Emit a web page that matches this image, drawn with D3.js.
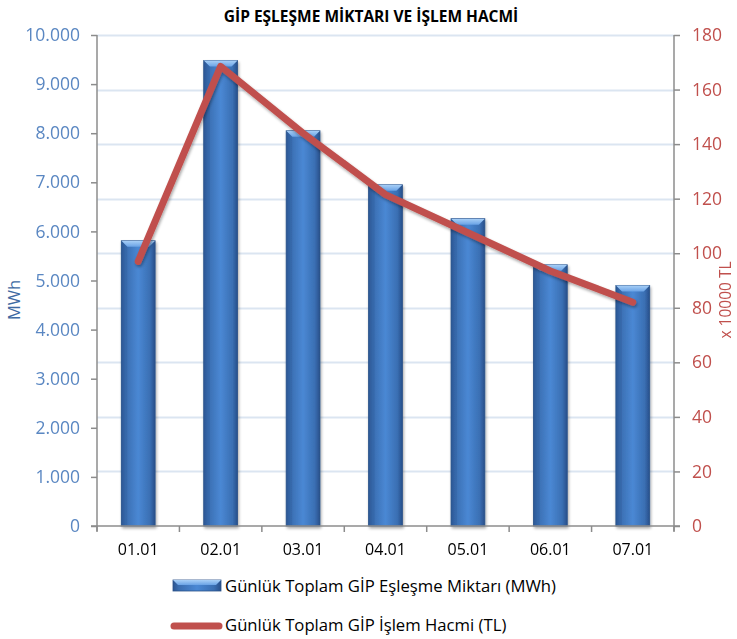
<!DOCTYPE html>
<html><head><meta charset="utf-8">
<script src="https://cdn.jsdelivr.net/npm/d3@7"></script>
<style>
html,body{margin:0;padding:0;background:#fff;}
svg{display:block;font-family:"Open Sans",sans-serif;}
</style></head>
<body><svg id="c" width="737" height="639"></svg>
<script>
const categories = ["01.01","02.01","03.01","04.01","05.01","06.01","07.01"];
const matchedMWh = [5810, 9480, 8050, 6950, 6260, 5320, 4900];
const volumeTL10k = [97, 168.5, 144, 121.5, 107.5, 93.5, 82];
const leftTicks = [0,1000,2000,3000,4000,5000,6000,7000,8000,9000,10000];
const rightTicks = [0,20,40,60,80,100,120,140,160,180];
const title = "GİP EŞLEŞME MİKTARI VE İŞLEM HACMİ";
const seriesNames = ["Günlük Toplam GİP Eşleşme Miktarı (MWh)","Günlük Toplam GİP İşlem Hacmi (TL)"];

const svg = d3.select("#c");
const L = 97, R = 674, T = 35, B = 526;
const x = d3.scaleBand().domain(categories).range([L, R]).paddingInner(0.59).paddingOuter(0.295);
const band = d3.scaleBand().domain(categories).range([L, R]);
const yL = d3.scaleLinear().domain([0, 10000]).range([B, T]);
const yR = d3.scaleLinear().domain([0, 180]).range([B, T]);

const defs = svg.append("defs");
const g1 = defs.append("linearGradient").attr("id","barG").attr("x1","0").attr("x2","1").attr("y1","0").attr("y2","0");
[[0,"#2b5592"],[0.12,"#3a6db0"],[0.5,"#4a88d4"],[0.85,"#3a6fb3"],[1,"#284f8a"]].forEach(s=>g1.append("stop").attr("offset",s[0]).attr("stop-color",s[1]));
const g2 = defs.append("linearGradient").attr("id","topG").attr("x1","0").attr("x2","0").attr("y1","0").attr("y2","1");
[[0,"#a9d0f7"],[1,"#6aa3e6"]].forEach(s=>g2.append("stop").attr("offset",s[0]).attr("stop-color",s[1]));
const f = defs.append("filter").attr("id","sh").attr("x","-20%").attr("y","-20%").attr("width","140%").attr("height","140%");
f.append("feGaussianBlur").attr("in","SourceAlpha").attr("stdDeviation",1.5);
f.append("feOffset").attr("dx",1).attr("dy",1.5).attr("result","o");
f.append("feComponentTransfer").append("feFuncA").attr("type","linear").attr("slope",0.35);
const m = f.append("feMerge"); m.append("feMergeNode"); m.append("feMergeNode").attr("in","SourceGraphic");

// title
svg.append("text").attr("x", 371).attr("y", 22).attr("text-anchor","middle")
  .attr("font-size", 15.5).attr("font-weight", 700).attr("fill","#000").text(title);

// gridlines (secondary axis ticks)
svg.append("g").selectAll("line").data(rightTicks.filter(d=>d>0)).join("line")
  .attr("x1", L).attr("x2", R).attr("y1", d=>Math.round(yR(d))+0.5).attr("y2", d=>Math.round(yR(d))+0.5)
  .attr("stroke","#dbe5f1").attr("stroke-width",2);

// bars
const bars = svg.append("g").attr("filter","url(#sh)");
categories.forEach((c,i)=>{
  const bx = x(c), bw = x.bandwidth(), by = yL(matchedMWh[i]);
  bars.append("rect").attr("x",bx).attr("y",by).attr("width",bw).attr("height",B-by)
    .attr("fill","url(#barG)").attr("stroke","#2a5188").attr("stroke-width",0.8);
  const h = 6;
  bars.append("path").attr("d",`M${bx},${by}L${bx+bw},${by}L${bx+bw-h},${by+h}L${bx+h},${by+h}Z`)
    .attr("fill","url(#topG)");
  bars.append("path").attr("d",`M${bx},${by}L${bx+h},${by+h}L${bx+h},${B}L${bx},${B}Z`).attr("fill","#2f5c9c").attr("opacity",0.35);
});

// axes
const axisColor = "#8c8c8c";
const ax = svg.append("g").attr("stroke",axisColor).attr("stroke-width",1.5);
ax.append("line").attr("x1",L).attr("x2",L).attr("y1",T).attr("y2",B+5);
ax.append("line").attr("x1",R).attr("x2",R).attr("y1",T).attr("y2",B+5);
ax.append("line").attr("x1",L-6).attr("x2",R+6).attr("y1",B).attr("y2",B);

const gl = svg.append("g").attr("transform",`translate(${L},0)`).call(d3.axisLeft(yL).tickValues(leftTicks).tickSize(6).tickPadding(11)
  .tickFormat(d=>d3.format(",")(d).replace(/,/g,".")));
gl.select(".domain").remove();
gl.selectAll("line").attr("stroke",axisColor).attr("stroke-width",1.5);
gl.selectAll("text").attr("fill","#5a87c2").attr("font-size",17.5).attr("font-family","Open Sans");

const gr = svg.append("g").attr("transform",`translate(${R},0)`).call(d3.axisRight(yR).tickValues(rightTicks).tickSize(6).tickPadding(12));
gr.select(".domain").remove();
gr.selectAll("line").attr("stroke",axisColor).attr("stroke-width",1.5);
gr.selectAll("text").attr("fill","#c0504d").attr("font-size",17.5).attr("font-family","Open Sans");

const boundaries = [...categories.map(c=>band(c)), R];
svg.append("g").selectAll("line").data(boundaries).join("line")
  .attr("x1",d=>d).attr("x2",d=>d).attr("y1",B).attr("y2",B+6).attr("stroke",axisColor).attr("stroke-width",1.5);
svg.append("g").selectAll("text").data(categories).join("text")
  .attr("x",d=>band(d)+band.bandwidth()/2).attr("y",555).attr("text-anchor","middle")
  .attr("font-size",16).attr("fill","#000").text(d=>d);

// axis titles
svg.append("text").attr("transform",`translate(20,300) rotate(-90)`).attr("text-anchor","middle")
  .attr("font-size",16.5).attr("fill","#3f6aa3").text("MWh");
svg.append("text").attr("transform",`translate(731,300) rotate(-90)`).attr("text-anchor","middle")
  .attr("font-size",15.5).attr("fill","#c0504d").text("x 10000 TL");

// line
const lineGen = d3.line().x((d,i)=>band(categories[i])+band.bandwidth()/2).y(d=>yR(d));
svg.append("path").datum(volumeTL10k).attr("d",lineGen).attr("fill","none")
  .attr("stroke","#c0504d").attr("stroke-width",7).attr("stroke-linecap","round").attr("stroke-linejoin","round")
  .attr("filter","url(#sh)");

// legend
const lg = svg.append("g");
lg.append("rect").attr("x",173).attr("y",580).attr("width",48).attr("height",11).attr("fill","url(#barG)").attr("stroke","#2a5188").attr("stroke-width",0.8);
lg.append("path").attr("d","M173,580L221,580L216,585L178,585Z").attr("fill","url(#topG)");
lg.append("text").attr("x",225).attr("y",592).attr("font-size",16.7).attr("fill","#000").text(seriesNames[0]);
lg.append("line").attr("x1",174).attr("x2",219).attr("y1",626).attr("y2",626).attr("stroke","#c0504d").attr("stroke-width",7).attr("stroke-linecap","round");
lg.append("text").attr("x",225).attr("y",631).attr("font-size",16.7).attr("fill","#000").text(seriesNames[1]);
</script></body></html>
